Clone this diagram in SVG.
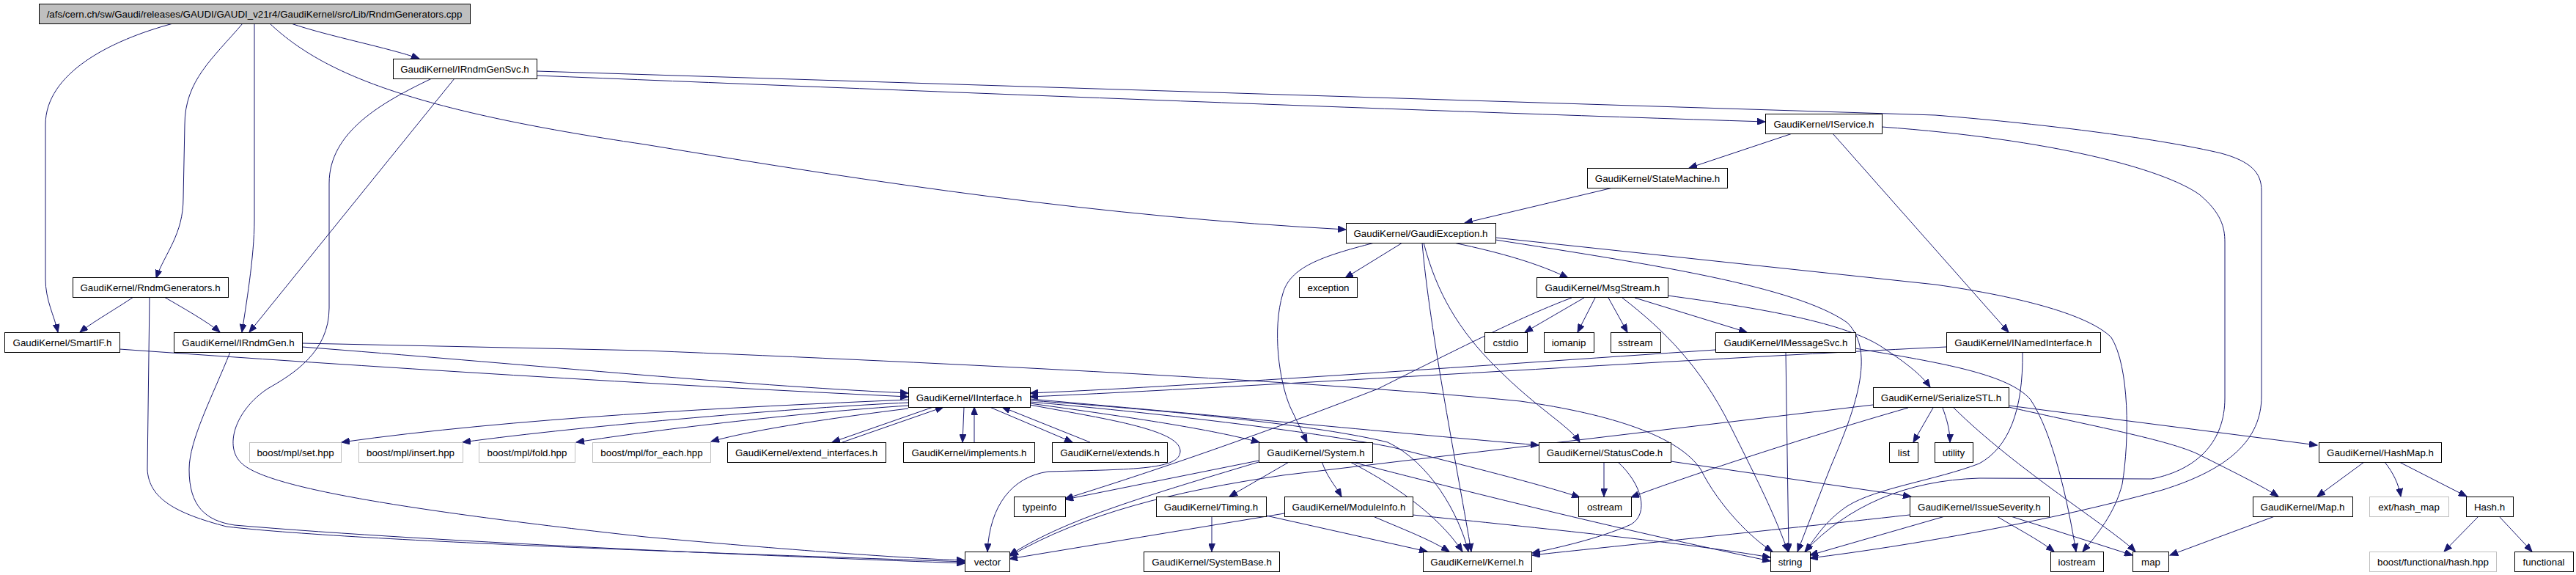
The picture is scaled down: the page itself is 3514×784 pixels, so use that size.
<svg xmlns="http://www.w3.org/2000/svg" width="3514" height="784" viewBox="0 0 3514 784">
<style>
.n rect{fill:#fff;stroke:#000;stroke-width:1}
.g rect{fill:#fff;stroke:#bfbfbf;stroke-width:1}
.r rect{fill:#bfbfbf;stroke:#000;stroke-width:1}
text{font-family:"Liberation Sans",Arial,sans-serif;font-size:13.33px;text-anchor:middle;fill:#000}
#edges path{fill:none;stroke:#191970;stroke-width:1;marker-end:url(#a)}
</style>
<defs>
<marker id="a" markerWidth="12" markerHeight="9" refX="11" refY="4.5" orient="auto" markerUnits="userSpaceOnUse">
<path d="M0,0 L11,4.5 L0,9 z" fill="#191970" stroke="#191970" stroke-width="1"/>
</marker>
</defs>
<rect width="3514" height="784" fill="#fff"/>
<g id="edges">
<path d="M236,32 C150,55 62,100 62,170 L62,380 C62,410 74,430 79,453"/>
<path d="M331,32 C290,80 252,110 252,170 L250,270 C250,320 225,345 213,379"/>
<path d="M347,32 L347,300 C347,350 335,420 330,453"/>
<path d="M368,32 C440,100 560,150 880,197 C1200,250 1500,295 1836,313"/>
<path d="M397,32 C450,50 530,65 572,80"/>
<path d="M732,103 C1200,122 1900,150 2408,166"/>
<path d="M732,97 L2640,157 C2800,170 2950,190 3030,209 C3070,220 3085,235 3085,260 L3085,540 C3085,600 3040,640 2950,668 C2800,710 2600,745 2469,761"/>
<path d="M620,107 L340,453"/>
<path d="M589,107 C520,140 449,180 449,250 L449,420 C449,480 400,510 365,530 C320,560 305,610 330,632 C360,660 500,690 880,732 C1100,752 1250,762 1316,764"/>
<path d="M182,405 C160,420 125,440 109,453"/>
<path d="M224,405 C250,420 285,440 300,453"/>
<path d="M204,405 L201,640 C203,680 240,700 309,718 C500,740 1100,758 1316,766"/>
<path d="M163,476 C500,500 900,525 1239,541"/>
<path d="M412,473 C700,495 1000,525 1239,536"/>
<path d="M412,468 L880,478 C1300,495 1800,520 2074,547 C2200,565 2290,595 2320,640 C2345,690 2390,735 2418,752"/>
<path d="M314,480 C290,540 258,600 258,640 C258,690 280,710 320,716 C600,740 1100,760 1316,768"/>
<path d="M2445,182 L2304,229"/>
<path d="M2500,182 L2740,453"/>
<path d="M2567,173 C2800,190 2950,230 3000,265 C3030,290 3035,310 3035,330 L3035,543 C3035,600 3000,640 2935,653 L2700,652 C2600,655 2520,690 2462,752"/>
<path d="M2200,256 L1998,304"/>
<path d="M1913,331 L1835,379"/>
<path d="M1983,331 C2050,345 2100,360 2139,379"/>
<path d="M1875,331 C1800,350 1760,365 1750,400 C1735,450 1745,520 1760,555 L1783,603"/>
<path d="M1940,331 C1950,450 1990,650 2007,752"/>
<path d="M1942,331 C1960,400 1990,450 2040,500 C2100,560 2140,580 2155,603"/>
<path d="M2040,327 C2250,360 2450,390 2520,440 C2560,480 2530,560 2497,637 L2452,752"/>
<path d="M2040,324 L2640,388 C2760,405 2850,430 2880,460 C2905,500 2905,600 2895,660 C2885,700 2860,730 2841,752"/>
<path d="M2161,406 L2080,453"/>
<path d="M2176,406 L2152,453"/>
<path d="M2194,406 L2220,453"/>
<path d="M2230,406 L2383,453"/>
<path d="M2275,403 C2400,420 2520,440 2570,475 C2600,495 2620,510 2633,528"/>
<path d="M2213,406 C2270,450 2320,500 2360,580 C2400,660 2420,700 2439,752"/>
<path d="M2144,406 C2080,430 2000,470 1880,530 C1700,600 1550,650 1453,680"/>
<path d="M2340,477 C2000,500 1600,528 1405,536"/>
<path d="M2436,480 L2440,752"/>
<path d="M2531,475 C2650,495 2740,510 2770,545 C2800,590 2820,680 2832,752"/>
<path d="M2655,473 C2300,490 1700,528 1405,541"/>
<path d="M2759,480 C2760,560 2740,610 2700,632 C2640,655 2560,665 2520,690 C2490,710 2475,735 2463,752"/>
<path d="M1239,545 C1000,555 700,570 466,603"/>
<path d="M1239,549 C1100,555 800,580 631,603"/>
<path d="M1239,553 C1100,562 900,585 786,603"/>
<path d="M1239,557 C1150,568 1030,585 970,602"/>
<path d="M1273,555 L1135,603"/>
<path d="M1149,603 L1287,555"/>
<path d="M1315,555 L1313,603"/>
<path d="M1329,603 L1329,555"/>
<path d="M1350,555 L1463,603"/>
<path d="M1487,603 L1367,555"/>
<path d="M1405,550 C1550,570 1650,585 1718,603"/>
<path d="M1405,544 C1700,570 1900,590 2099,607"/>
<path d="M1405,548 C1600,565 1800,590 1900,610 C2000,635 2100,660 2155,678"/>
<path d="M1405,546 C1600,560 1800,580 1893,603 C1950,630 1990,700 2003,752"/>
<path d="M1405,552 C1500,570 1610,585 1610,615 C1610,640 1550,640 1430,643 C1380,650 1350,690 1347,752"/>
<path d="M1717,628 L1453,681"/>
<path d="M1717,630 C1550,680 1450,710 1377,757"/>
<path d="M1760,629 L1677,677"/>
<path d="M1803,629 C1810,650 1820,660 1830,677"/>
<path d="M1840,629 C1900,660 1960,700 1995,752"/>
<path d="M1841,629 C2000,670 2200,720 2415,765"/>
<path d="M1927,702 C2100,720 2300,740 2415,760"/>
<path d="M1873,704 C1910,720 1950,735 1977,752"/>
<path d="M1752,700 L1377,762"/>
<path d="M1653,704 L1653,752"/>
<path d="M1727,703 L1947,752"/>
<path d="M2188,630 L2188,677"/>
<path d="M2207,630 C2240,660 2250,700 2225,715 C2180,735 2120,748 2090,754"/>
<path d="M2279,629 L2607,677"/>
<path d="M2603,556 C2450,600 2300,650 2225,678"/>
<path d="M2555,552 L1750,648 C1600,670 1480,700 1378,758"/>
<path d="M2637,556 L2610,603"/>
<path d="M2650,556 C2655,570 2660,585 2660,603"/>
<path d="M2665,556 C2750,640 2880,720 2913,752"/>
<path d="M2740,555 C2850,580 2960,600 3000,620 C3050,645 3090,665 3108,677"/>
<path d="M2740,553 L3161,607"/>
<path d="M2605,702 C2400,725 2200,745 2090,757"/>
<path d="M2653,704 L2469,757"/>
<path d="M2724,704 C2750,720 2780,735 2802,752"/>
<path d="M2743,704 L2909,757"/>
<path d="M3225,630 L3161,677"/>
<path d="M3253,630 C3265,645 3272,660 3275,677"/>
<path d="M3273,630 L3365,677"/>
<path d="M3103,704 L2960,757"/>
<path d="M3381,704 L3334,752"/>
<path d="M3409,704 L3454,752"/>
</g>
<g id="root" class="r"><rect x="53.5" y="5.5" width="588" height="27"/><text x="347" y="23.5">/afs/cern.ch/sw/Gaudi/releases/GAUDI/GAUDI_v21r4/GaudiKernel/src/Lib/RndmGenerators.cpp</text></g>
<g id="irndmgensvc" class="n"><rect x="536.5" y="80.5" width="196" height="27"/><text x="634" y="98.5">GaudiKernel/IRndmGenSvc.h</text></g>
<g id="rndmgenerators" class="n"><rect x="99.5" y="378.5" width="212" height="27"/><text x="205" y="396.5">GaudiKernel/RndmGenerators.h</text></g>
<g id="smartif" class="n"><rect x="6.5" y="453.5" width="157" height="27"/><text x="85" y="471.5">GaudiKernel/SmartIF.h</text></g>
<g id="irndmgen" class="n"><rect x="237.5" y="453.5" width="175" height="27"/><text x="325" y="471.5">GaudiKernel/IRndmGen.h</text></g>
<g id="mplset" class="g"><rect x="340.5" y="603.5" width="125" height="27"/><text x="403" y="621.5">boost/mpl/set.hpp</text></g>
<g id="mplinsert" class="g"><rect x="489.5" y="603.5" width="142" height="27"/><text x="560" y="621.5">boost/mpl/insert.hpp</text></g>
<g id="mplfold" class="g"><rect x="653.5" y="603.5" width="131" height="27"/><text x="719" y="621.5">boost/mpl/fold.hpp</text></g>
<g id="mplforeach" class="g"><rect x="808.5" y="603.5" width="161" height="27"/><text x="889" y="621.5">boost/mpl/for_each.hpp</text></g>
<g id="iinterface" class="n"><rect x="1239.5" y="528.5" width="166" height="27"/><text x="1322" y="546.5">GaudiKernel/IInterface.h</text></g>
<g id="extendinterfaces" class="n"><rect x="992.5" y="603.5" width="216" height="27"/><text x="1100" y="621.5">GaudiKernel/extend_interfaces.h</text></g>
<g id="implements" class="n"><rect x="1232.5" y="603.5" width="179" height="27"/><text x="1322" y="621.5">GaudiKernel/implements.h</text></g>
<g id="extends" class="n"><rect x="1435.5" y="603.5" width="157" height="27"/><text x="1514" y="621.5">GaudiKernel/extends.h</text></g>
<g id="typeinfo" class="n"><rect x="1383.5" y="677.5" width="70" height="27"/><text x="1418" y="695.5">typeinfo</text></g>
<g id="timing" class="n"><rect x="1577.5" y="677.5" width="150" height="27"/><text x="1652" y="695.5">GaudiKernel/Timing.h</text></g>
<g id="vector" class="n"><rect x="1316.5" y="752.5" width="61" height="27"/><text x="1347" y="770.5">vector</text></g>
<g id="systembase" class="n"><rect x="1560.5" y="752.5" width="185" height="27"/><text x="1653" y="770.5">GaudiKernel/SystemBase.h</text></g>
<g id="system" class="n"><rect x="1717.5" y="603.5" width="155" height="27"/><text x="1795" y="621.5">GaudiKernel/System.h</text></g>
<g id="moduleinfo" class="n"><rect x="1752.5" y="677.5" width="175" height="27"/><text x="1840" y="695.5">GaudiKernel/ModuleInfo.h</text></g>
<g id="iservice" class="n"><rect x="2408.5" y="155.5" width="159" height="27"/><text x="2488" y="173.5">GaudiKernel/IService.h</text></g>
<g id="statemachine" class="n"><rect x="2165.5" y="229.5" width="191" height="27"/><text x="2261" y="247.5">GaudiKernel/StateMachine.h</text></g>
<g id="gaudiexception" class="n"><rect x="1836.5" y="304.5" width="204" height="27"/><text x="1938" y="322.5">GaudiKernel/GaudiException.h</text></g>
<g id="exception" class="n"><rect x="1772.5" y="378.5" width="79" height="27"/><text x="1812" y="396.5">exception</text></g>
<g id="msgstream" class="n"><rect x="2096.5" y="378.5" width="179" height="27"/><text x="2186" y="396.5">GaudiKernel/MsgStream.h</text></g>
<g id="cstdio" class="n"><rect x="2025.5" y="453.5" width="58" height="27"/><text x="2054" y="471.5">cstdio</text></g>
<g id="iomanip" class="n"><rect x="2106.5" y="453.5" width="68" height="27"/><text x="2140" y="471.5">iomanip</text></g>
<g id="sstream" class="n"><rect x="2197.5" y="453.5" width="68" height="27"/><text x="2231" y="471.5">sstream</text></g>
<g id="imessagesvc" class="n"><rect x="2340.5" y="453.5" width="191" height="27"/><text x="2436" y="471.5">GaudiKernel/IMessageSvc.h</text></g>
<g id="statuscode" class="n"><rect x="2099.5" y="603.5" width="180" height="27"/><text x="2189" y="621.5">GaudiKernel/StatusCode.h</text></g>
<g id="ostream" class="n"><rect x="2153.5" y="677.5" width="72" height="27"/><text x="2189" y="695.5">ostream</text></g>
<g id="kernel" class="n"><rect x="1941.5" y="752.5" width="148" height="27"/><text x="2015" y="770.5">GaudiKernel/Kernel.h</text></g>
<g id="string" class="n"><rect x="2415.5" y="752.5" width="54" height="27"/><text x="2442" y="770.5">string</text></g>
<g id="serializestl" class="n"><rect x="2555.5" y="528.5" width="185" height="27"/><text x="2648" y="546.5">GaudiKernel/SerializeSTL.h</text></g>
<g id="list" class="n"><rect x="2577.5" y="603.5" width="39" height="27"/><text x="2597" y="621.5">list</text></g>
<g id="utility" class="n"><rect x="2639.5" y="603.5" width="52" height="27"/><text x="2665" y="621.5">utility</text></g>
<g id="issueseverity" class="n"><rect x="2605.5" y="677.5" width="190" height="27"/><text x="2700" y="695.5">GaudiKernel/IssueSeverity.h</text></g>
<g id="inamedinterface" class="n"><rect x="2655.5" y="453.5" width="210" height="27"/><text x="2760" y="471.5">GaudiKernel/INamedInterface.h</text></g>
<g id="hashmap" class="n"><rect x="3163.5" y="603.5" width="167" height="27"/><text x="3247" y="621.5">GaudiKernel/HashMap.h</text></g>
<g id="mapgk" class="n"><rect x="3073.5" y="677.5" width="136" height="27"/><text x="3141" y="695.5">GaudiKernel/Map.h</text></g>
<g id="exthashmap" class="g"><rect x="3232.5" y="677.5" width="108" height="27"/><text x="3286" y="695.5">ext/hash_map</text></g>
<g id="hash" class="n"><rect x="3364.5" y="677.5" width="64" height="27"/><text x="3396" y="695.5">Hash.h</text></g>
<g id="iostream" class="n"><rect x="2797.5" y="752.5" width="72" height="27"/><text x="2833" y="770.5">iostream</text></g>
<g id="map" class="n"><rect x="2909.5" y="752.5" width="49" height="27"/><text x="2934" y="770.5">map</text></g>
<g id="boosthash" class="g"><rect x="3232.5" y="752.5" width="173" height="27"/><text x="3319" y="770.5">boost/functional/hash.hpp</text></g>
<g id="functional" class="n"><rect x="3430.5" y="752.5" width="80" height="27"/><text x="3470" y="770.5">functional</text></g>
</svg>
